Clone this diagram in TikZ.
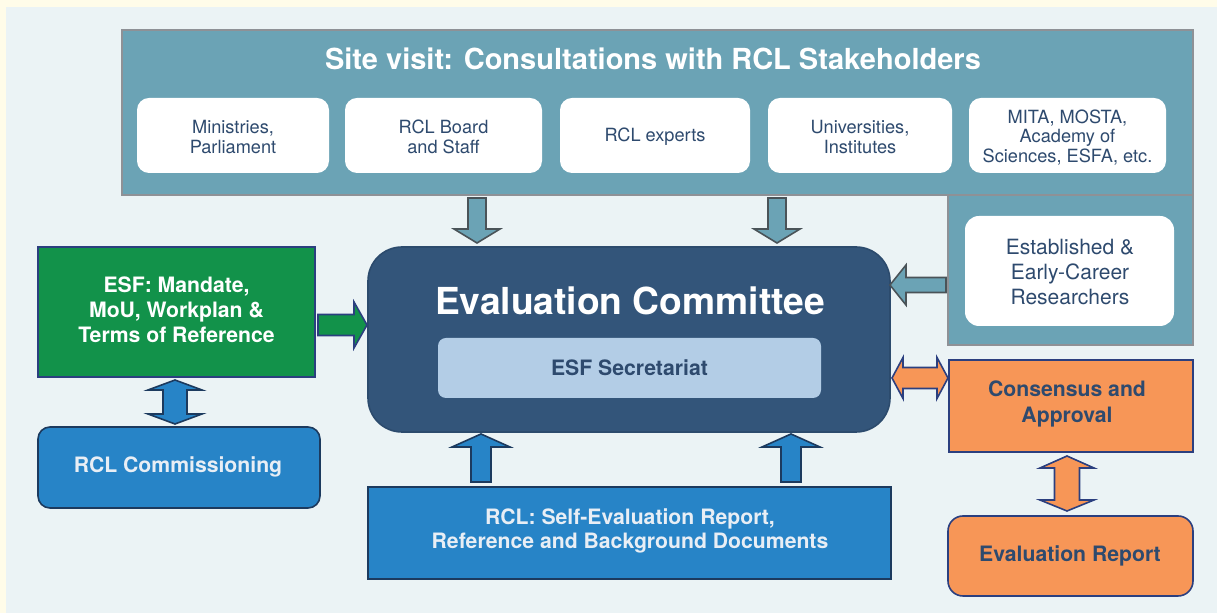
\documentclass[tikz,border=0pt]{standalone}
\usepackage{fontspec}
\setmainfont{TeX Gyre Heros}
\definecolor{outerbg}{HTML}{FFFCE9}
\definecolor{panelbg}{HTML}{EBF3F5}
\definecolor{tealc}{HTML}{6BA3B5}
\definecolor{grayb}{HTML}{8E9196}
\definecolor{arrgray}{HTML}{4A5358}
\definecolor{txtblue}{HTML}{2E4A6E}
\definecolor{lighttxt}{HTML}{E8EEF5}
\definecolor{ecfill}{HTML}{33557A}
\definecolor{ecdraw}{HTML}{2C4B6D}
\definecolor{secfill}{HTML}{B3CDE6}
\definecolor{bluefill}{HTML}{2784C7}
\definecolor{bluedraw}{HTML}{1C3A5E}
\definecolor{greenfill}{HTML}{12924A}
\definecolor{navydraw}{HTML}{2B3F7F}
\definecolor{orangefill}{HTML}{F79657}
\begin{document}
\begin{tikzpicture}[x=0.5pt,y=-0.5pt,
  wbox/.style={fill=white, rounded corners=6pt, inner sep=0pt},
  smalltxt/.style={text=txtblue, align=center, inner sep=0pt, font=\fontsize{9.1}{10}\selectfont},
  boldtxt/.style={align=center, inner sep=0pt, font=\bfseries\fontsize{10.6}{12.5}\selectfont},
  tealarrow/.style={fill=tealc, draw=arrgray, line width=0.8pt, line join=miter},
  bluearrow/.style={fill=bluefill, draw=bluedraw, line width=0.8pt},
  greenarrow/.style={fill=greenfill, draw=navydraw, line width=0.8pt},
  orangearrow/.style={fill=orangefill, draw=navydraw, line width=0.8pt}
]
\useasboundingbox (0,0) rectangle (1217,613);
\fill[outerbg] (0,0) rectangle (1217,613);
\fill[panelbg] (6,7) rectangle (1217,613);

% stakeholder panel
\draw[fill=tealc, draw=grayb, line width=0.8pt] (122,30) rectangle (1193,195);
\draw[fill=tealc, draw=grayb, line width=0.8pt] (948,195) rectangle (1193,345);
\node[anchor=base, text=white, font=\bfseries\fontsize{14.5}{17}\selectfont, inner sep=0pt] (title) at (653,70) {Site visit: Consultations with RCL Stakeholders};

\node[wbox, minimum width=96pt, minimum height=37.5pt] (s1) at (233,135.5) {};
\node[wbox, minimum width=98.5pt, minimum height=37.5pt] (s2) at (443.5,135.5) {};
\node[wbox, minimum width=95pt, minimum height=37.5pt] (s3) at (655,135.5) {};
\node[wbox, minimum width=92pt, minimum height=37.5pt] (s4) at (860,135.5) {};
\node[wbox, minimum width=98.5pt, minimum height=37.5pt] (s5) at (1067.5,135.5) {};
\node[smalltxt] (t1) at (233,137) {Ministries,\\Parliament};
\node[smalltxt] (t2) at (443.5,137) {RCL Board\\and Staff};
\node[smalltxt] (t3) at (655,137) {RCL experts};
\node[smalltxt] (t4) at (860,137) {Universities,\\Institutes};
\node[smalltxt, font=\fontsize{9.1}{9.7}\selectfont] (t5) at (1067.5,137.5) {MITA, MOSTA,\\Academy of\\Sciences, ESFA, etc.};

\node[wbox, rounded corners=7pt, minimum width=104.5pt, minimum height=55pt] (res) at (1069.5,271) {};
\node[text=txtblue, align=center, inner sep=0pt, font=\fontsize{10.5}{12.6}\selectfont] (rest) at (1070,272) {Established \&\\Early-Career\\Researchers};

% evaluation committee
\node[fill=ecfill, draw=ecdraw, line width=0.8pt, rounded corners=17pt, minimum width=261pt, minimum height=92.5pt, inner sep=0pt] (ec) at (629,339.5) {};
\node[anchor=base, text=white, font=\bfseries\fontsize{18.6}{22}\selectfont, inner sep=0pt] (ect) at (630,315) {Evaluation Committee};
\node[fill=secfill, rounded corners=4pt, minimum width=191.5pt, minimum height=30pt, inner sep=0pt] (sec) at (629.5,368) {};
\node[boldtxt, text=txtblue] (sect) at (sec) {ESF Secretariat};

% RCL documents
\node[fill=bluefill, draw=bluedraw, line width=0.8pt, minimum width=261.5pt, minimum height=46pt, inner sep=0pt] (docs) at (629.5,533) {};
\node[boldtxt, text=lighttxt, font=\bfseries\fontsize{10.6}{12}\selectfont] (docst) at (630,531) {RCL: Self-Evaluation Report,\\Reference and Background Documents};

% ESF mandate
\node[fill=greenfill, draw=navydraw, line width=0.8pt, minimum width=138.5pt, minimum height=65pt, inner sep=0pt] (esf) at (176.5,312) {};
\node[boldtxt, text=white] (esft) at (176.5,310) {ESF: Mandate,\\MoU, Workplan \&\\Terms of Reference};

% RCL commissioning
\node[fill=bluefill, draw=bluedraw, line width=0.8pt, rounded corners=6pt, minimum width=141pt, minimum height=40.5pt, inner sep=0pt] (comm) at (179,467.5) {};
\node[boldtxt, text=lighttxt] (commt) at (178,467) {RCL Commissioning};

% consensus
\node[fill=orangefill, draw=navydraw, line width=0.8pt, minimum width=122pt, minimum height=46pt, inner sep=0pt] (cons) at (1071,406) {};
\node[boldtxt, text=txtblue, font=\bfseries\fontsize{10.6}{13.2}\selectfont] (const) at (1067,404) {Consensus and\\Approval};

% evaluation report
\node[fill=orangefill, draw=navydraw, line width=0.8pt, rounded corners=7.5pt, minimum width=122.5pt, minimum height=40pt, inner sep=0pt] (rep) at (1070.5,556) {};
\node[boldtxt, text=txtblue] (rept) at (1070,556) {Evaluation Report};

% block arrows
\draw[tealarrow] (468,198) -- (486,198) -- (486,229) -- (500,229) -- (477,243) -- (454,229) -- (468,229) -- cycle;
\draw[tealarrow] (768,198) -- (786,198) -- (786,229) -- (800,229) -- (777,243) -- (754,229) -- (768,229) -- cycle;
\draw[tealarrow] (946,277.5) -- (946,292.5) -- (906,292.5) -- (906,305) -- (890,285) -- (906,265) -- (906,277.5) -- cycle;
\draw[greenarrow] (318,314.5) -- (354,314.5) -- (354,302) -- (367,325) -- (354,348) -- (354,335.5) -- (318,335.5) -- cycle;
\draw[bluearrow] (175,380) -- (202,390) -- (187,390) -- (187,414) -- (202,414) -- (175,424) -- (148,414) -- (163,414) -- (163,390) -- (148,390) -- cycle;
\draw[bluearrow] (471,482) -- (471,447) -- (452,447) -- (481,434) -- (510,447) -- (491,447) -- (491,482) -- cycle;
\draw[bluearrow] (781,482) -- (781,447) -- (762,447) -- (791,434) -- (820,447) -- (801,447) -- (801,482) -- cycle;
\draw[orangearrow] (892,378) -- (903,357.5) -- (903,367.5) -- (937,367.5) -- (937,357.5) -- (948,378) -- (937,398.5) -- (937,388.5) -- (903,388.5) -- (903,398.5) -- cycle;
\draw[orangearrow] (1067,456) -- (1094,468) -- (1079.5,468) -- (1079.5,500) -- (1094,500) -- (1067,511) -- (1040,500) -- (1054.5,500) -- (1054.5,468) -- (1040,468) -- cycle;
\end{tikzpicture}
\end{document}
